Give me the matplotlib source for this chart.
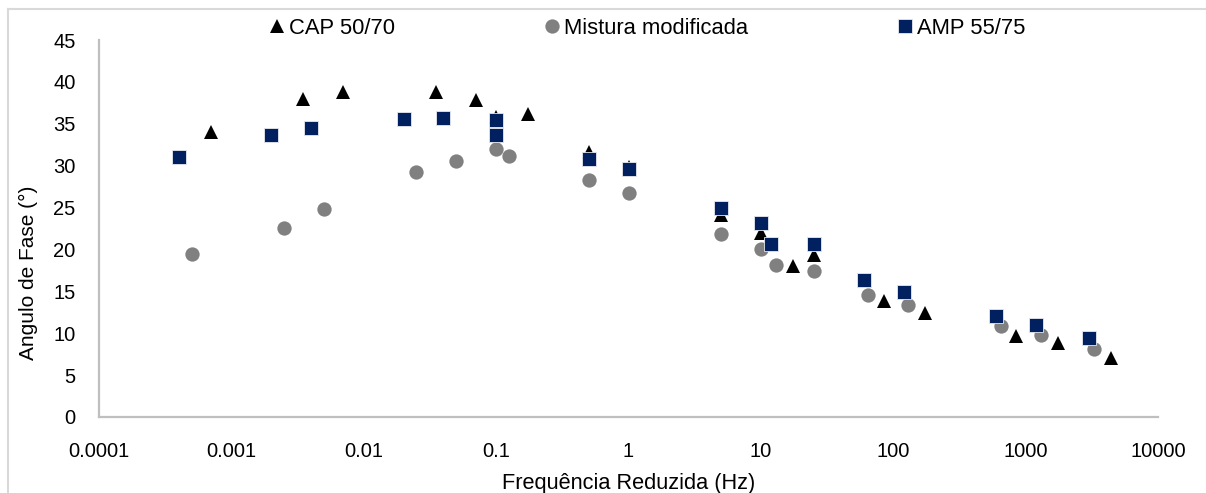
import matplotlib
matplotlib.use("Agg")
import matplotlib.pyplot as plt
from matplotlib.lines import Line2D
from matplotlib.ticker import FixedLocator, FixedFormatter, NullLocator

plt.rcParams['font.family'] = ['Liberation Sans', 'DejaVu Sans']

# Reduced frequency (Hz) and phase angle (degrees) for each binder
cap_freq = [0.0007, 0.0035, 0.007, 0.035, 0.07, 0.1, 0.175, 0.5, 1, 5, 10, 17.5, 25,
            85, 175, 850, 1750, 4400]
cap_phase = [34.0, 38.0, 38.8, 38.8, 37.8, 35.8, 36.2, 31.6, 29.9, 24.1, 22.0, 18.0, 19.3,
             13.9, 12.4, 9.7, 8.8, 7.0]

mix_freq = [0.0005, 0.0025, 0.005, 0.025, 0.05, 0.1, 0.125, 0.5, 1, 5, 10, 13, 25,
            65, 130, 650, 1300, 3300]
mix_phase = [19.4, 22.6, 24.8, 29.2, 30.5, 32.0, 31.2, 28.3, 26.7, 21.9, 20.0, 18.2, 17.4,
             14.6, 13.4, 10.9, 9.8, 8.1]

amp_freq = [0.0004, 0.002, 0.004, 0.02, 0.04, 0.1, 0.1, 0.5, 1, 5, 10, 12, 25,
            60, 120, 600, 1200, 3000]
amp_phase = [31.0, 33.7, 34.5, 35.6, 35.7, 35.5, 33.7, 30.8, 29.6, 25.0, 23.2, 20.6, 20.7,
             16.4, 14.9, 12.0, 11.0, 9.4]

series_names = ['CAP 50/70', 'Mistura modificada', 'AMP 55/75']

x_ticks = [0.0001, 0.001, 0.01, 0.1, 1, 10, 100, 1000, 10000]
x_tick_labels = ['0.0001', '0.001', '0.01', '0.1', '1', '10', '100', '1000', '10000']
y_ticks = [0, 5, 10, 15, 20, 25, 30, 35, 40, 45]

W, H = 1206, 493
fig = plt.figure(figsize=(W / 100, H / 100), dpi=100)
ax = fig.add_axes([99 / W, 1 - 417 / H, (1158 - 99) / W, (417 - 40) / H])

ax.plot(cap_freq, cap_phase, linestyle='none', marker='^', markersize=10.5,
        color='#000000', markeredgewidth=0, label=series_names[0], zorder=3)
ax.plot(mix_freq, mix_phase, linestyle='none', marker='o', markersize=10.3,
        color='#808080', markeredgewidth=0, label=series_names[1], zorder=3)
ax.plot(amp_freq, amp_phase, linestyle='none', marker='s', markersize=10.6,
        color='#002060', markeredgewidth=0.6, markeredgecolor='#e6e9f0',
        label=series_names[2], zorder=3)

ax.set_xscale('log')
ax.set_xlim(x_ticks[0], x_ticks[-1])
ax.set_ylim(y_ticks[0], y_ticks[-1])
ax.xaxis.set_major_locator(FixedLocator(x_ticks))
ax.xaxis.set_major_formatter(FixedFormatter(x_tick_labels))
ax.xaxis.set_minor_locator(NullLocator())
ax.set_yticks(y_ticks)

ax.tick_params(axis='both', length=0, labelsize=14.5, colors='#000000')
ax.tick_params(axis='x', pad=18)
ax.tick_params(axis='y', pad=17)

for side in ('top', 'right'):
    ax.spines[side].set_visible(False)
for side in ('left', 'bottom'):
    ax.spines[side].set_color('#bfbfbf')
    ax.spines[side].set_linewidth(1.6)

ax.set_xlabel('Frequência Reduzida (Hz)', fontsize=15.7)
ax.xaxis.set_label_coords(0.5, -(484 - 417) / (417 - 40))
ax.xaxis.label.set_va('center')
ax.set_ylabel('Angulo de Fase (°)', fontsize=15)
ax.yaxis.set_label_coords(-(99 - 28) / (1158 - 99), (417 - 273) / (417 - 40))
ax.yaxis.label.set_va('center')

fig.legend(loc='center', bbox_to_anchor=(648 / W, 1 - 28 / H), ncol=3,
           frameon=False, fontsize=15.8, handlelength=0.6, handletextpad=0.25,
           columnspacing=6.85, borderpad=0, borderaxespad=0)

# light frame around the chart area
fig.add_artist(Line2D([8 / W, 1], [1 - 9 / H, 1 - 9 / H], transform=fig.transFigure,
                      color='#d9d9d9', linewidth=1.5))
fig.add_artist(Line2D([8 / W, 8 / W], [0, 1 - 9 / H], transform=fig.transFigure,
                      color='#d9d9d9', linewidth=1.5))

fig.savefig('out.png', dpi=100)
